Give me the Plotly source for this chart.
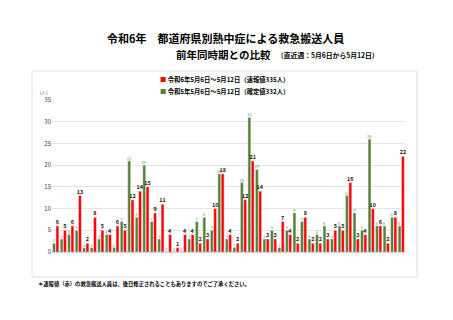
import plotly.graph_objects as go

prefectures = ["北海道","青森県","岩手県","宮城県","秋田県","山形県","福島県","茨城県","栃木県","群馬県",
               "埼玉県","千葉県","東京都","神奈川県","新潟県","富山県","石川県","福井県","山梨県","長野県",
               "岐阜県","静岡県","愛知県","三重県","滋賀県","京都府","大阪府","兵庫県","奈良県","和歌山県",
               "鳥取県","島根県","岡山県","広島県","山口県","徳島県","香川県","愛媛県","高知県","福岡県",
               "佐賀県","長崎県","熊本県","大分県","宮崎県","鹿児島県","沖縄県"]
r6_values = [6,5,6,13,2,8,5,4,6,5,12,14,15,9,11,4,1,4,4,2,3,10,18,4,2,12,21,14,3,3,
             7,4,2,8,2,2,3,5,5,16,3,4,10,6,2,8,22]
r5_values = [2,3,4,5,1,1,3,4,1,7,21,8,20,7,3,0,0,0,3,7,8,5,18,3,1,16,31,19,3,5,
             1,5,9,7,3,4,6,3,6,13,9,5,26,6,6,8,6]
y_ticks = [0,5,10,15,20,25,30,35]

name_r6 = "令和6年5月6日～5月12日（速報値335人）"
name_r5 = "令和5年5月6日～5月12日（確定値332人）"

W, H = 453, 320
L, R, T, B = 52, 405, 100, 252
FONT = "Noto Sans CJK JP"

def px(x):
    return (x - L) / (R - L)

def py(y):
    return (B - y) / (B - T)

fig = go.Figure()
fig.add_trace(go.Bar(x=prefectures, y=r5_values, name=name_r5, marker_color="#548235",
                     text=r5_values, textposition="outside", cliponaxis=False,
                     constraintext="none",
                     textfont=dict(size=4, color="#808080", family=FONT)))
fig.add_trace(go.Bar(x=prefectures, y=r6_values, name=name_r6, marker_color="#FF0000",
                     text=r6_values, texttemplate="<b>%{text}</b>", textposition="outside",
                     cliponaxis=False, constraintext="none",
                     textfont=dict(size=5.5, color="#222222", family=FONT)))

fig.update_layout(
    width=W, height=H, margin=dict(l=L, r=W - R, t=T, b=H - B, pad=0),
    paper_bgcolor="white", plot_bgcolor="white",
    barmode="group", bargap=0.12, bargroupgap=0.12,
    showlegend=False,
    font=dict(family=FONT, color="#333333"),
    xaxis=dict(showticklabels=False, showline=False, ticks="", showgrid=False),
    yaxis=dict(range=[0, 35], tickvals=y_ticks, showgrid=True, gridcolor="#e3e3e3", gridwidth=1,
               zeroline=True, zerolinecolor="#d0d0d0", showline=False,
               tickfont=dict(size=6, color="#404040", family=FONT), ticklen=0),
    shapes=[dict(type="rect", xref="paper", yref="paper",
                 x0=px(32), x1=px(417), y0=py(277), y1=py(71),
                 line=dict(color="#e0e0e0", width=1), fillcolor="rgba(0,0,0,0)", layer="below")],
)

ann = []
ann.append(dict(text="<b>令和6年　都道府県別熱中症による救急搬送人員</b>", x=px(225), y=py(38),
                font=dict(size=11, color="#000000", family=FONT)))
ann.append(dict(text="<b>前年同時期との比較</b>", x=px(223), y=py(54),
                font=dict(size=10.5, color="#000000", family=FONT)))
ann.append(dict(text="<b>（直近週：5月6日から5月12日）</b>", x=px(275), y=py(55), xanchor="left",
                font=dict(size=6.8, color="#000000", family=FONT)))
ann.append(dict(text="<span style='color:#FF0000'>■</span> <b>" + name_r6 + "</b>", x=px(158), y=py(79),
                xanchor="left", font=dict(size=6.3, color="#000000", family=FONT)))
ann.append(dict(text="<span style='color:#548235'>■</span> <b>" + name_r5 + "</b>", x=px(158), y=py(91),
                xanchor="left", font=dict(size=6.3, color="#000000", family=FONT)))
ann.append(dict(text="（人）", x=px(44), y=py(91.5), font=dict(size=4.5, color="#404040", family=FONT)))
ann.append(dict(text="<b>＊速報値（赤）の救急搬送人員は、後日修正されることもありますのでご了承ください。</b>",
                x=px(36), y=py(284), xanchor="left", font=dict(size=5.3, color="#000000", family=FONT)))
for a in ann:
    a.setdefault("xanchor", "center")
    a.update(xref="paper", yref="paper", showarrow=False, yanchor="middle")
fig.update_layout(annotations=ann)

fig.write_html("out.html")
